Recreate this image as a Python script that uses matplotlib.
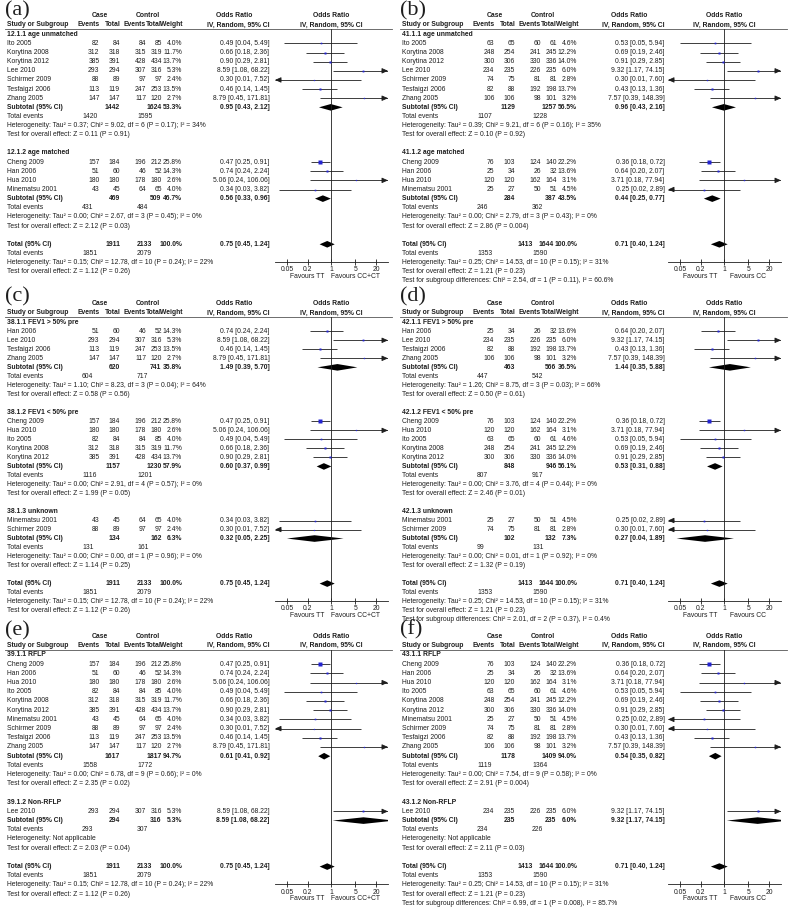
import matplotlib
matplotlib.use('Agg')
import matplotlib.pyplot as plt
import numpy as np

plt.rcParams['font.family'] = ['Liberation Sans', 'DejaVu Sans']

FS = 4.9
INK = '#1e1e1e'
BLUE = '#2424d0'
XLIM = (0.0224, 44.7)

# ---- study data ----
studies = ['Ito 2005', 'Korytina 2008', 'Korytina 2012', 'Lee 2010', 'Schirmer 2009',
           'Tesfaigzi 2006', 'Zhang 2005', 'Cheng 2009', 'Han 2006', 'Hua 2010', 'Minematsu 2001']

# TT vs CC+CT
cct_case_ev = [82, 312, 385, 293, 88, 113, 147, 157, 51, 180, 43]
cct_case_n = [84, 318, 391, 294, 89, 119, 147, 184, 60, 180, 45]
cct_ctrl_ev = [84, 315, 428, 307, 97, 247, 117, 196, 46, 178, 64]
cct_ctrl_n = [85, 319, 434, 316, 97, 253, 120, 212, 52, 180, 65]
cct_weight = [4.0, 11.7, 13.7, 5.3, 2.4, 13.5, 2.7, 25.8, 14.3, 2.6, 4.0]
cct_or = [0.49, 0.66, 0.90, 8.59, 0.30, 0.46, 8.79, 0.47, 0.74, 5.06, 0.34]
cct_lo = [0.04, 0.18, 0.29, 1.08, 0.01, 0.14, 0.45, 0.25, 0.24, 0.24, 0.03]
cct_hi = [5.49, 2.36, 2.81, 68.22, 7.52, 1.45, 171.81, 0.91, 2.24, 106.06, 3.82]

# TT vs CC
cc_case_ev = [63, 248, 300, 234, 74, 82, 106, 76, 25, 120, 25]
cc_case_n = [65, 254, 306, 235, 75, 88, 106, 103, 34, 120, 27]
cc_ctrl_ev = [60, 241, 330, 226, 81, 192, 98, 124, 26, 162, 50]
cc_ctrl_n = [61, 245, 336, 235, 81, 198, 101, 140, 32, 164, 51]
cc_weight = [4.6, 12.2, 14.0, 6.0, 2.8, 13.7, 3.2, 22.2, 13.6, 3.1, 4.5]
cc_or = [0.53, 0.69, 0.91, 9.32, 0.30, 0.43, 7.57, 0.36, 0.64, 3.71, 0.25]
cc_lo = [0.05, 0.19, 0.29, 1.17, 0.01, 0.13, 0.39, 0.18, 0.20, 0.18, 0.02]
cc_hi = [5.94, 2.46, 2.85, 74.15, 7.60, 1.36, 148.39, 0.72, 2.07, 77.94, 2.89]

# ---- subgroup memberships ----
age_unmatched = ['Ito 2005', 'Korytina 2008', 'Korytina 2012', 'Lee 2010', 'Schirmer 2009',
                 'Tesfaigzi 2006', 'Zhang 2005']
age_matched = ['Cheng 2009', 'Han 2006', 'Hua 2010', 'Minematsu 2001']
fev_high = ['Han 2006', 'Lee 2010', 'Tesfaigzi 2006', 'Zhang 2005']
fev_low = ['Cheng 2009', 'Hua 2010', 'Ito 2005', 'Korytina 2008', 'Korytina 2012']
fev_unknown = ['Minematsu 2001', 'Schirmer 2009']
rflp = ['Cheng 2009', 'Han 2006', 'Hua 2010', 'Ito 2005', 'Korytina 2008', 'Korytina 2012',
        'Minematsu 2001', 'Schirmer 2009', 'Tesfaigzi 2006', 'Zhang 2005']
non_rflp = ['Lee 2010']

# ---- subgroup summaries ----
a_titles = ['12.1.1 age unmatched', '12.1.2 age matched']
a_sub_n = [(1442, 1624), (469, 509)]
a_sub_events = [(1420, 1595), (431, 484)]
a_sub_weight = [53.3, 46.7]
a_sub_or = [(0.95, 0.43, 2.12), (0.56, 0.33, 0.96)]
a_sub_het = ['Tau² = 0.37; Chi² = 9.02, df = 6 (P = 0.17); I² = 34%',
             'Tau² = 0.00; Chi² = 2.67, df = 3 (P = 0.45); I² = 0%']
a_sub_z = ['Z = 0.11 (P = 0.91)', 'Z = 2.12 (P = 0.03)']

b_titles = ['41.1.1 age unmatched', '41.1.2 age matched']
b_sub_n = [(1129, 1257), (284, 387)]
b_sub_events = [(1107, 1228), (246, 362)]
b_sub_weight = [56.5, 43.5]
b_sub_or = [(0.96, 0.43, 2.16), (0.44, 0.25, 0.77)]
b_sub_het = ['Tau² = 0.39; Chi² = 9.21, df = 6 (P = 0.16); I² = 35%',
             'Tau² = 0.00; Chi² = 2.79, df = 3 (P = 0.43); I² = 0%']
b_sub_z = ['Z = 0.10 (P = 0.92)', 'Z = 2.86 (P = 0.004)']

c_titles = ['38.1.1 FEV1 > 50% pre', '38.1.2 FEV1 < 50% pre', '38.1.3 unknown']
c_sub_n = [(620, 741), (1157, 1230), (134, 162)]
c_sub_events = [(604, 717), (1116, 1201), (131, 161)]
c_sub_weight = [35.8, 57.9, 6.3]
c_sub_or = [(1.49, 0.39, 5.70), (0.60, 0.37, 0.99), (0.32, 0.05, 2.25)]
c_sub_het = ['Tau² = 1.10; Chi² = 8.23, df = 3 (P = 0.04); I² = 64%',
             'Tau² = 0.00; Chi² = 2.91, df = 4 (P = 0.57); I² = 0%',
             'Tau² = 0.00; Chi² = 0.00, df = 1 (P = 0.96); I² = 0%']
c_sub_z = ['Z = 0.58 (P = 0.56)', 'Z = 1.99 (P = 0.05)', 'Z = 1.14 (P = 0.25)']

d_titles = ['42.1.1 FEV1 > 50% pre', '42.1.2 FEV1 < 50% pre', '42.1.3 unknown']
d_sub_n = [(463, 566), (848, 946), (102, 132)]
d_sub_events = [(447, 542), (807, 917), (99, 131)]
d_sub_weight = [36.5, 56.1, 7.3]
d_sub_or = [(1.44, 0.35, 5.88), (0.53, 0.31, 0.88), (0.27, 0.04, 1.89)]
d_sub_het = ['Tau² = 1.26; Chi² = 8.75, df = 3 (P = 0.03); I² = 66%',
             'Tau² = 0.00; Chi² = 3.76, df = 4 (P = 0.44); I² = 0%',
             'Tau² = 0.00; Chi² = 0.01, df = 1 (P = 0.92); I² = 0%']
d_sub_z = ['Z = 0.50 (P = 0.61)', 'Z = 2.46 (P = 0.01)', 'Z = 1.32 (P = 0.19)']

e_titles = ['39.1.1 RFLP', '39.1.2 Non-RFLP']
e_sub_n = [(1617, 1817), (294, 316)]
e_sub_events = [(1558, 1772), (293, 307)]
e_sub_weight = [94.7, 5.3]
e_sub_or = [(0.61, 0.41, 0.92), (8.59, 1.08, 68.22)]
e_sub_het = ['Tau² = 0.00; Chi² = 6.78, df = 9 (P = 0.66); I² = 0%', None]
e_sub_z = ['Z = 2.35 (P = 0.02)', 'Z = 2.03 (P = 0.04)']

f_titles = ['43.1.1 RFLP', '43.1.2 Non-RFLP']
f_sub_n = [(1178, 1409), (235, 235)]
f_sub_events = [(1119, 1364), (234, 226)]
f_sub_weight = [94.0, 6.0]
f_sub_or = [(0.54, 0.35, 0.82), (9.32, 1.17, 74.15)]
f_sub_het = ['Tau² = 0.00; Chi² = 7.54, df = 9 (P = 0.58); I² = 0%', None]
f_sub_z = ['Z = 2.91 (P = 0.004)', 'Z = 2.11 (P = 0.03)']

# ---- overall totals ----
cct_total_n = (1911, 2133)
cct_total_events = (1851, 2079)
cct_total_or = (0.75, 0.45, 1.24)
cct_total_het = 'Tau² = 0.15; Chi² = 12.78, df = 10 (P = 0.24); I² = 22%'
cct_total_z = 'Z = 1.12 (P = 0.26)'

cc_total_n = (1413, 1644)
cc_total_events = (1353, 1590)
cc_total_or = (0.71, 0.40, 1.24)
cc_total_het = 'Tau² = 0.25; Chi² = 14.53, df = 10 (P = 0.15); I² = 31%'
cc_total_z = 'Z = 1.21 (P = 0.23)'

b_diff = 'Chi² = 2.54, df = 1 (P = 0.11), I² = 60.6%'
d_diff = 'Chi² = 2.01, df = 2 (P = 0.37), I² = 0.4%'
f_diff = 'Chi² = 6.99, df = 1 (P = 0.008), I² = 85.7%'

tick_vals = [0.05, 0.2, 1, 5, 20]
tick_labels = ['0.05', '0.2', '1', '5', '20']

cct = dict(case_ev=cct_case_ev, case_n=cct_case_n, ctrl_ev=cct_ctrl_ev, ctrl_n=cct_ctrl_n,
           weight=cct_weight, est=cct_or, lo=cct_lo, hi=cct_hi, tot_n=cct_total_n,
           tot_ev=cct_total_events, tot_or=cct_total_or, tot_het=cct_total_het,
           tot_z=cct_total_z, fav='Favours CC+CT', tot_x=(120.5, 152.5))
cc = dict(case_ev=cc_case_ev, case_n=cc_case_n, ctrl_ev=cc_ctrl_ev, ctrl_n=cc_ctrl_n,
          weight=cc_weight, est=cc_or, lo=cc_lo, hi=cc_hi, tot_n=cc_total_n,
          tot_ev=cc_total_events, tot_or=cc_total_or, tot_het=cc_total_het,
          tot_z=cc_total_z, fav='Favours CC', tot_x=(137.5, 159))

W, H = 790, 909
fig = plt.figure(figsize=(W / 100, H / 100), dpi=100)
base = fig.add_axes([0, 0, 1, 1])
base.set_xlim(0, W)
base.set_ylim(H, 0)
base.axis('off')


def txt(x, y, s, ha='left', bold=False):
    base.text(x, y, s, ha=ha, va='center', fontsize=FS, color=INK,
              fontweight='bold' if bold else 'normal')


def or_text(est, lo, hi):
    return f'{est:.2f} [{lo:.2f}, {hi:.2f}]'


def draw_ci(fa, y, est, lo, hi, w):
    xmin, xmax = XLIM
    fa.plot([max(lo, xmin), min(hi, xmax)], [y, y], color=INK, lw=0.6,
            solid_capstyle='butt')
    arrow = dict(arrowstyle='-|>,head_length=0.9,head_width=0.4', color=INK, lw=0.6,
                 shrinkA=0, shrinkB=0, mutation_scale=4)
    if hi > xmax:
        fa.annotate('', xy=(xmax, y), xytext=(xmax / 1.5, y), arrowprops=arrow)
    if lo < xmin:
        fa.annotate('', xy=(xmin, y), xytext=(xmin * 1.5, y), arrowprops=arrow)
    fa.plot(est, y, marker='s', ms=max(0.57 * np.sqrt(w), 0.8), color=BLUE, mec='none')


def draw_diamond(fa, y, est, lo, hi):
    fa.fill([lo, est, hi, est], [y, y - 3.3, y, y + 3.3], color='black', lw=0)


def draw_panel(label, ox, fx, y0, step, label_y, data, titles, members, sub_n, sub_ev,
               sub_w, sub_or, sub_het, sub_z, diff=None):
    # header
    base.text(ox + 5, label_y, label, ha='left', va='center', fontsize=16,
              family='Liberation Serif', color=INK)
    h1, h2 = y0 - 18.6, y0 - 9.3
    txt(ox + 100, h1, 'Case', ha='center', bold=True)
    txt(ox + 148, h1, 'Control', ha='center', bold=True)
    txt(ox + 234, h1, 'Odds Ratio', ha='center', bold=True)
    txt(fx + 56, h1, 'Odds Ratio', ha='center', bold=True)
    txt(ox + 7, h2, 'Study or Subgroup', bold=True)
    for x, s in [(100, 'Events'), (120.5, 'Total'), (145.5, 'Events'), (162, 'Total'),
                 (183, 'Weight'), (269.5, 'IV, Random, 95% CI')]:
        txt(ox + x, h2, s, ha='right', bold=True)
    txt(fx + 56, h2, 'IV, Random, 95% CI', ha='center', bold=True)
    base.plot([ox + 5, ox + 392], [y0 - 5, y0 - 5], color='#555555', lw=0.6)

    n_before = sum(len(m) + 6 for m in members)
    y_axis = y0 + (n_before + 2) * step - 1
    y_top = y0 - 5
    fa = fig.add_axes([fx / W, 1 - y_axis / H, 113 / W, (y_axis - y_top) / H])
    fa.set_xscale('log')
    fa.set_xlim(*XLIM)
    fa.set_ylim(y_axis, y_top)
    fa.patch.set_alpha(0)
    for sp in ['top', 'left', 'right']:
        fa.spines[sp].set_visible(False)
    fa.spines['bottom'].set_linewidth(0.6)
    fa.spines['bottom'].set_color(INK)
    fa.set_yticks([])
    fa.set_xticks(tick_vals)
    fa.set_xticklabels(tick_labels)
    fa.minorticks_off()
    fa.tick_params(axis='x', direction='inout', length=4, width=0.6, labelsize=FS,
                   pad=1.5, colors=INK)
    fa.axvline(1, color=INK, lw=0.6)

    row = 0
    for g, title in enumerate(titles):
        txt(ox + 7, y0 + row * step, title, bold=True)
        row += 1
        for name in members[g]:
            i = studies.index(name)
            y = y0 + row * step
            txt(ox + 7, y, name)
            txt(ox + 99.5, y, str(data['case_ev'][i]), ha='right')
            txt(ox + 120, y, str(data['case_n'][i]), ha='right')
            txt(ox + 146, y, str(data['ctrl_ev'][i]), ha='right')
            txt(ox + 162, y, str(data['ctrl_n'][i]), ha='right')
            txt(ox + 182, y, f"{data['weight'][i]:.1f}%", ha='right')
            txt(ox + 269.5, y, or_text(data['est'][i], data['lo'][i], data['hi'][i]),
                ha='right')
            draw_ci(fa, y, data['est'][i], data['lo'][i], data['hi'][i], data['weight'][i])
            row += 1
        y = y0 + row * step
        txt(ox + 7, y, 'Subtotal (95% CI)', bold=True)
        txt(ox + 120, y, str(sub_n[g][0]), ha='right', bold=True)
        txt(ox + 161.5, y, str(sub_n[g][1]), ha='right', bold=True)
        txt(ox + 182, y, f'{sub_w[g]:.1f}%', ha='right', bold=True)
        txt(ox + 269.5, y, or_text(*sub_or[g]), ha='right', bold=True)
        draw_diamond(fa, y, *sub_or[g])
        row += 1
        y = y0 + row * step
        txt(ox + 7, y, 'Total events')
        txt(ox + 82, y, str(sub_ev[g][0]))
        txt(ox + 137, y, str(sub_ev[g][1]))
        row += 1
        het = sub_het[g]
        txt(ox + 7, y0 + row * step,
            'Heterogeneity: ' + (het if het else 'Not applicable'))
        row += 1
        txt(ox + 7, y0 + row * step, 'Test for overall effect: ' + sub_z[g])
        row += 2

    y = y0 + row * step
    txt(ox + 7, y, 'Total (95% CI)', bold=True)
    txt(ox + data['tot_x'][0], y, str(data['tot_n'][0]), ha='right', bold=True)
    txt(ox + data['tot_x'][1], y, str(data['tot_n'][1]), ha='right', bold=True)
    txt(ox + 182, y, '100.0%', ha='right', bold=True)
    txt(ox + 269.5, y, or_text(*data['tot_or']), ha='right', bold=True)
    draw_diamond(fa, y, *data['tot_or'])
    row += 1
    y = y0 + row * step
    txt(ox + 7, y, 'Total events')
    txt(ox + 82, y, str(data['tot_ev'][0]))
    txt(ox + 137, y, str(data['tot_ev'][1]))
    row += 1
    txt(ox + 7, y0 + row * step, 'Heterogeneity: ' + data['tot_het'])
    row += 1
    txt(ox + 7, y0 + row * step, 'Test for overall effect: ' + data['tot_z'])
    row += 1
    if diff:
        txt(ox + 7, y0 + row * step, 'Test for subgroup differences: ' + diff)

    # favours labels below the axis
    fy = y_axis + 14.5
    fa.text(0.2, fy, 'Favours TT', ha='center', va='center', fontsize=FS, color=INK,
            transform=fa.transData, clip_on=False)
    fa.text(5, fy, data['fav'], ha='center', va='center', fontsize=FS, color=INK,
            transform=fa.transData, clip_on=False)


draw_panel('(a)', 0, 275, 34.3, 9.13, 11, cct, a_titles, [age_unmatched, age_matched],
           a_sub_n, a_sub_events, a_sub_weight, a_sub_or, a_sub_het, a_sub_z)
draw_panel('(b)', 395, 668, 34.3, 9.13, 11, cc, b_titles, [age_unmatched, age_matched],
           b_sub_n, b_sub_events, b_sub_weight, b_sub_or, b_sub_het, b_sub_z, b_diff)
draw_panel('(c)', 0, 275, 322.3, 9.01, 297, cct, c_titles, [fev_high, fev_low, fev_unknown],
           c_sub_n, c_sub_events, c_sub_weight, c_sub_or, c_sub_het, c_sub_z)
draw_panel('(d)', 395, 668, 322.3, 9.01, 297, cc, d_titles, [fev_high, fev_low, fev_unknown],
           d_sub_n, d_sub_events, d_sub_weight, d_sub_or, d_sub_het, d_sub_z, d_diff)
draw_panel('(e)', 0, 275, 655, 9.2, 630.5, cct, e_titles, [rflp, non_rflp],
           e_sub_n, e_sub_events, e_sub_weight, e_sub_or, e_sub_het, e_sub_z)
draw_panel('(f)', 395, 668, 655, 9.2, 630, cc, f_titles, [rflp, non_rflp],
           f_sub_n, f_sub_events, f_sub_weight, f_sub_or, f_sub_het, f_sub_z, f_diff)

fig.savefig('out.png', dpi=100, facecolor='white')
